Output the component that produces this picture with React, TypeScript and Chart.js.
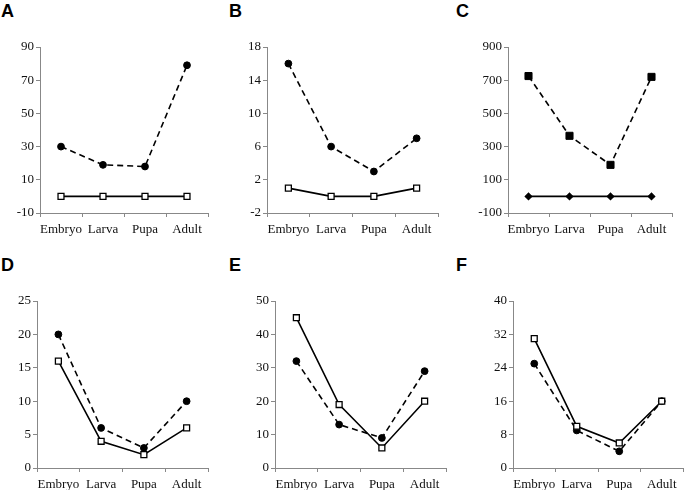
import React, { useEffect, useRef } from "react";
import { Chart, registerables } from "chart.js";

Chart.register(...registerables);

const categories = ["Embryo", "Larva", "Pupa", "Adult"];

const aDashed = [30, 19, 18, 79];
const aSolid = [0, 0, 0, 0];
const bDashed = [16, 6, 3, 7];
const bSolid = [1, 0, 0, 1];
const cDashed = [725, 365, 190, 720];
const cSolid = [0, 0, 0, 0];
const dDashed = [20, 6, 3, 10];
const dSolid = [16, 4, 2, 6];
const eDashed = [32, 13, 9, 29];
const eSolid = [45, 19, 6, 20];
const fDashed = [25, 9, 4, 16];
const fSolid = [31, 10, 6, 16];

const yMins = [-10, -2, -100, 0, 0, 0];
const yMaxs = [90, 18, 900, 25, 50, 40];
const ySteps = [20, 4, 200, 5, 10, 8];
const letters = ["A", "B", "C", "D", "E", "F"];

type Panel = {
  letter: string;
  dashed: number[];
  solid: number[];
  min: number;
  max: number;
  step: number;
  panelLeft: number;
  axisX: number;
  plotTop: number;
  plotBottom: number;
  plotRight: number;
  dashedStyle: "circle" | "rect";
  solidStyle: "openRect" | "diamond";
  letterTop: number;
};

const layout = [
  { panelLeft: 0, axisX: 40, plotTop: 47, plotBottom: 213, plotRight: 208, letterTop: 1 },
  { panelLeft: 228, axisX: 267, plotTop: 47, plotBottom: 213, plotRight: 438, letterTop: 1 },
  { panelLeft: 455, axisX: 508, plotTop: 47, plotBottom: 213, plotRight: 672, letterTop: 1 },
  { panelLeft: 0, axisX: 37, plotTop: 301, plotBottom: 468, plotRight: 208, letterTop: 255 },
  { panelLeft: 228, axisX: 275, plotTop: 301, plotBottom: 468, plotRight: 446, letterTop: 255 },
  { panelLeft: 455, axisX: 513, plotTop: 301, plotBottom: 468, plotRight: 683, letterTop: 255 },
];

const dashedSeries = [aDashed, bDashed, cDashed, dDashed, eDashed, fDashed];
const solidSeries = [aSolid, bSolid, cSolid, dSolid, eSolid, fSolid];

const panels: Panel[] = layout.map((l, i) => ({
  ...l,
  letter: letters[i],
  dashed: dashedSeries[i],
  solid: solidSeries[i],
  min: yMins[i],
  max: yMaxs[i],
  step: ySteps[i],
  dashedStyle: i === 2 ? "rect" : "circle",
  solidStyle: i === 2 ? "diamond" : "openRect",
}));

const PAD_TOP = 10;
const X_AXIS_H = 26;
const PAD_RIGHT = 6;

function PanelChart({ p }: { p: Panel }) {
  const ref = useRef<HTMLCanvasElement>(null);
  const width = p.plotRight - p.panelLeft + PAD_RIGHT;
  const height = p.plotBottom - p.plotTop + PAD_TOP + X_AXIS_H;

  useEffect(() => {
    if (!ref.current) return;
    const tickFont = { family: "Liberation Serif", size: 13 };
    const chart = new Chart(ref.current, {
      type: "line",
      data: {
        labels: categories,
        datasets: [
          {
            data: p.solid,
            borderColor: "#000",
            borderWidth: 1.6,
            pointStyle: p.solidStyle === "diamond" ? "rectRot" : "rect",
            pointRadius: p.solidStyle === "diamond" ? 3.2 : 4.2,
            pointBackgroundColor: p.solidStyle === "diamond" ? "#000" : "#fff",
            pointBorderColor: "#000",
            pointBorderWidth: 1.3,
            tension: 0,
          },
          {
            data: p.dashed,
            borderColor: "#000",
            borderWidth: 1.6,
            borderDash: [6, 4],
            pointStyle: p.dashedStyle,
            pointRadius: p.dashedStyle === "rect" ? 5 : 3.4,
            pointBackgroundColor: "#000",
            pointBorderColor: "#000",
            pointBorderWidth: 1,
            tension: 0,
          },
        ],
      },
      options: {
        animation: false,
        responsive: false,
        events: [],
        layout: { padding: { top: PAD_TOP, right: PAD_RIGHT, left: 0, bottom: 0 } },
        plugins: { legend: { display: false }, tooltip: { enabled: false }, title: { display: false } },
        scales: {
          x: {
            type: "category",
            offset: true,
            grid: { offset: true, drawOnChartArea: false, drawTicks: true, tickLength: 4, color: "#888" },
            border: { display: true, color: "#888", width: 1 },
            ticks: { color: "#111", font: tickFont, padding: 5, maxRotation: 0, autoSkip: false },
            afterFit: (s: any) => {
              s.height = X_AXIS_H;
            },
          },
          y: {
            min: p.min,
            max: p.max,
            grid: { drawOnChartArea: false, drawTicks: true, tickLength: 4, color: "#888" },
            border: { display: true, color: "#888", width: 1 },
            ticks: { stepSize: p.step, color: "#111", font: tickFont, padding: 2 },
            afterFit: (s: any) => {
              s.width = p.axisX - p.panelLeft;
            },
          },
        },
      },
    });
    return () => chart.destroy();
  }, []);

  return (
    <>
      <canvas
        ref={ref}
        width={width}
        height={height}
        style={{ position: "absolute", left: p.panelLeft, top: p.plotTop - PAD_TOP, width, height }}
      />
      <div
        style={{
          position: "absolute",
          left: p.panelLeft + 1,
          top: p.letterTop,
          fontFamily: "'Liberation Sans', Arial, sans-serif",
          fontWeight: "bold",
          fontSize: 18,
          lineHeight: "20px",
          color: "#000",
        }}
      >
        {p.letter}
      </div>
    </>
  );
}

export default function App() {
  return (
    <div style={{ position: "absolute", left: 0, top: 0, width: 685, height: 490, background: "#fff", overflow: "hidden" }}>
      {panels.map((p) => (
        <PanelChart key={p.letter} p={p} />
      ))}
    </div>
  );
}
